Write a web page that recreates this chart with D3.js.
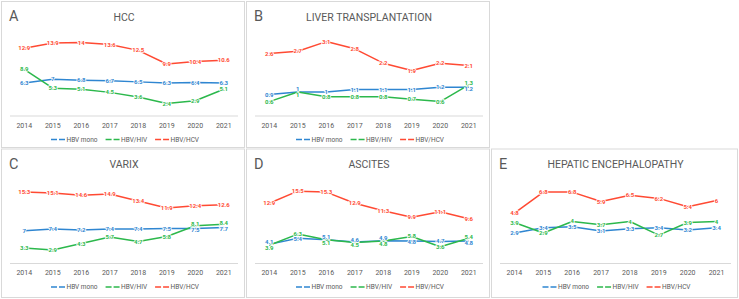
<!DOCTYPE html>
<html>
<head>
<meta charset="utf-8">
<script src="https://cdn.jsdelivr.net/npm/d3@7"></script>
<style>
  body { margin: 0; background: #fff; }
  svg { display: block; font-family: Roboto, "Liberation Sans", sans-serif; }
</style>
</head>
<body>
<svg id="canvas"></svg>
<script>
// categories
const years = [2014, 2015, 2016, 2017, 2018, 2019, 2020, 2021];
const seriesNames = ["HBV mono", "HBV/HIV", "HBV/HCV"];

// panel A - HCC
const hccMono = [6.3, 7, 6.8, 6.7, 6.5, 6.3, 6.4, 6.3];
const hccHiv  = [8.9, 5.3, 5.1, 4.5, 3.6, 2.4, 2.9, 5.1];
const hccHcv  = [12.9, 13.9, 14, 13.6, 12.5, 9.9, 10.4, 10.6];

// panel B - liver transplantation
const ltMono = [0.9, 1, 1, 1.1, 1.1, 1.1, 1.2, 1.2];
const ltHiv  = [0.6, 1, 0.8, 0.8, 0.8, 0.7, 0.6, 1.3];
const ltHcv  = [2.6, 2.7, 3.1, 2.8, 2.2, 1.9, 2.2, 2.1];

// panel C - varix
const varMono = [7, 7.4, 7.2, 7.4, 7.4, 7.5, 7.5, 7.7];
const varHiv  = [3.3, 2.9, 4.3, 5.7, 4.7, 5.8, 8.1, 8.4];
const varHcv  = [15.3, 15.1, 14.6, 14.9, 13.4, 11.9, 12.4, 12.6];

// panel D - ascites
const ascMono = [4.1, 5.4, 5.1, 4.6, 4.9, 4.8, 4.7, 4.8];
const ascHiv  = [3.9, 6.3, 5.1, 4.5, 4.8, 5.8, 3.6, 5.4];
const ascHcv  = [12.9, 15.5, 15.3, 12.9, 11.3, 9.9, 11.1, 9.6];

// panel E - hepatic encephalopathy
const heMono = [2.9, 3.4, 3.5, 3.1, 3.3, 3.4, 3.2, 3.4];
const heHiv  = [3.9, 2.9, 4, 3.7, 4, 2.7, 3.9, 4];
const heHcv  = [4.8, 6.8, 6.8, 5.9, 6.5, 6.2, 5.4, 6];

const panels = [
  { letter: "A", title: "HCC", x: 1, y: 1, w: 244, h: 147, max: 16, data: [hccMono, hccHiv, hccHcv] },
  { letter: "B", title: "LIVER TRANSPLANTATION", x: 246, y: 1, w: 244, h: 147, max: 3.5, data: [ltMono, ltHiv, ltHcv] },
  { letter: "C", title: "VARIX", x: 1, y: 148.5, w: 244, h: 149.5, max: 18, data: [varMono, varHiv, varHcv] },
  { letter: "D", title: "ASCITES", x: 246, y: 148.5, w: 244, h: 149.5, max: 18, data: [ascMono, ascHiv, ascHcv] },
  { letter: "E", title: "HEPATIC ENCEPHALOPATHY", x: 491, y: 148.5, w: 247, h: 149.5, max: 8, data: [heMono, heHiv, heHcv] }
];

const colors = ["#2f86d1", "#2cb84c", "#ff4a33"];
const grey = "#595959";

const width = 739, height = 299;
const svg = d3.select("#canvas").attr("width", width).attr("height", height);

panels.forEach(p => {
  const g = svg.append("g").attr("transform", `translate(${p.x},${p.y})`);

  // box
  g.append("rect")
    .attr("x", 0.5).attr("y", 0.5)
    .attr("width", p.w - 1).attr("height", p.h - 1)
    .attr("fill", "#fff")
    .attr("stroke", "#d9d9d9")
    .attr("stroke-width", 1);

  // letter + title
  g.append("text")
    .attr("x", 8).attr("y", 20)
    .attr("font-size", 14.5)
    .attr("fill", grey)
    .text(p.letter);

  g.append("text")
    .attr("x", p.w / 2 + 1).attr("y", 19.5)
    .attr("text-anchor", "middle")
    .attr("font-size", 10.5)
    .attr("fill", grey)
    .text(p.title);

  // scales
  const x = d3.scaleBand().domain(years).range([9, p.w - 7]);
  const y = d3.scaleLinear().domain([0, p.max]).range([115, 31]);
  const cx = d => x(d) + x.bandwidth() / 2;

  // baseline
  g.append("line")
    .attr("x1", x.range()[0]).attr("x2", x.range()[1])
    .attr("y1", y(0)).attr("y2", y(0))
    .attr("stroke", "#d9d9d9")
    .attr("stroke-width", 1);

  // year labels
  const xAxis = d3.axisBottom(x).tickSize(0).tickPadding(7);
  const ax = g.append("g").attr("transform", `translate(0,${y(0)})`).call(xAxis);
  ax.select(".domain").remove();
  ax.selectAll("text")
    .attr("font-size", 7)
    .attr("fill", grey)
    .attr("font-family", "Roboto, sans-serif");

  // lines
  const line = d3.line()
    .x((d, i) => cx(years[i]))
    .y(d => y(d));

  p.data.forEach((vals, si) => {
    g.append("path")
      .datum(vals)
      .attr("fill", "none")
      .attr("stroke", colors[si])
      .attr("stroke-width", 1.5)
      .attr("stroke-linejoin", "round")
      .attr("d", line);
  });

  // label positions: nudge labels of the same year apart a little when they collide
  const labelY = p.data.map(vals => vals.map(v => y(v)));
  years.forEach((yr, i) => {
    const idx = [0, 1, 2].sort((a, b) => labelY[a][i] - labelY[b][i]);
    for (let k = 1; k < idx.length; k++) {
      const prev = labelY[idx[k - 1]][i], cur = labelY[idx[k]][i];
      const minGap = 5.5;
      if (cur - prev < minGap) {
        const shift = (minGap - (cur - prev)) / 2;
        labelY[idx[k - 1]][i] = prev - shift;
        labelY[idx[k]][i] = cur + shift;
      }
    }
  });

  // data labels (drawn after all lines so they sit on top)
  p.data.forEach((vals, si) => {
    g.selectAll(null)
      .data(vals)
      .join("text")
      .attr("x", (d, i) => cx(years[i]))
      .attr("y", (d, i) => labelY[si][i])
      .attr("dy", "0.35em")
      .attr("text-anchor", "middle")
      .attr("font-size", 6)
      .attr("font-weight", "bold")
      .attr("fill", colors[si])
      .attr("stroke", "#fff")
      .attr("stroke-width", 1.6)
      .attr("paint-order", "stroke")
      .text(d => d);
  });

  // legend, centred in the panel
  const leg = g.append("g");
  let cursor = 0;
  seriesNames.forEach((name, si) => {
    const item = leg.append("g").attr("transform", `translate(${cursor},0)`);
    item.append("line")
      .attr("x1", 0).attr("x2", 14)
      .attr("y1", 0).attr("y2", 0)
      .attr("stroke", colors[si])
      .attr("stroke-width", 1.5)
      .attr("stroke-dasharray", "6 2");
    const t = item.append("text")
      .attr("x", 15.5).attr("y", 2.2)
      .attr("font-size", 6.5)
      .attr("fill", grey)
      .text(name);
    cursor += 15.5 + t.node().getComputedTextLength() + 8;
  });
  const legW = cursor - 8;
  leg.attr("transform", `translate(${(p.w - legW) / 2 + 2},138.5)`);
});
</script>
</body>
</html>
